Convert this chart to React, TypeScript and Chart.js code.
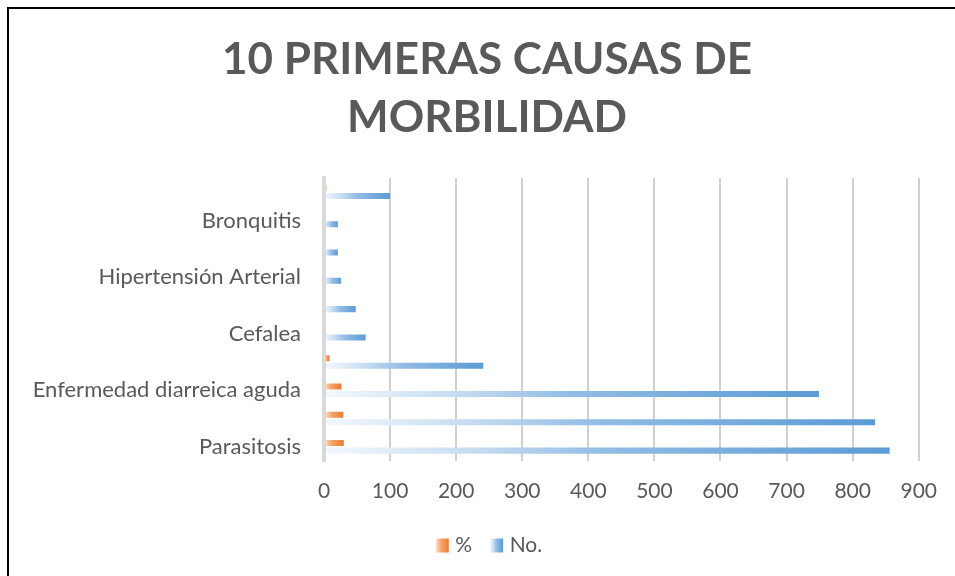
import React, { useEffect, useRef } from 'react';
import { Chart, registerables } from 'chart.js';

Chart.register(...registerables);

// Categories listed top to bottom as drawn
const categories = [
  'Conjuntivitis',
  'Bronquitis',
  'Dermatitis',
  'Hipertensión Arterial',
  'Gastritis',
  'Cefalea',
  'Infección de vías urinarias',
  'Enfermedad diarreica aguda',
  'Infección respiratoria aguda',
  'Parasitosis',
];
// Only every other category label is printed on the axis
const visibleLabels = ['Bronquitis', 'Hipertensión Arterial', 'Cefalea', 'Enfermedad diarreica aguda', 'Parasitosis'];
const pctValues = [3.5, 0.7, 0.7, 0.9, 1.7, 2.2, 8.5, 26.3, 29.2, 30.0];
const countValues = [100, 21, 21, 26, 48, 63, 241, 749, 834, 856];
const seriesNames = ['%', 'No.'];
const xTickMin = 0;
const xTickMax = 900;
const xTickStep = 100;
const titleLines = ['10 PRIMERAS CAUSAS DE', 'MORBILIDAD'];

const TEXT = '#595959';
const BLUE = '#5b9bd5';
const ORANGE = '#ed7d31';
const BLUE_STOPS: [number, string][] = [
  [0, '#f3f8fd'],
  [0.25, '#c9def2'],
  [0.5, '#92bce4'],
  [1, BLUE],
];
const ORANGE_STOPS: [number, string][] = [
  [0, '#fde7d6'],
  [0.4, '#f4a46a'],
  [1, ORANGE],
];

function gradientFill(stops: [number, string][], solid: string) {
  return (ctx: any) => {
    const chart = ctx.chart;
    const xs = chart.scales && chart.scales.x;
    if (!xs || ctx.type !== 'data' || ctx.raw == null) return solid;
    const x0 = xs.getPixelForValue(0);
    const x1 = xs.getPixelForValue(ctx.raw);
    if (!isFinite(x0) || !isFinite(x1) || x1 - x0 < 1) return solid;
    const g = chart.ctx.createLinearGradient(x0, 0, x1, 0);
    stops.forEach(([o, c]) => g.addColorStop(o, c));
    return g;
  };
}

const LEGEND_FONT = 21;
const LEGEND_BOX_W = 13;
const LEGEND_BOX_H = 14;
const LEGEND_BOX_SHIFT = 4;

const legendGradientPlugin = {
  id: 'legendGradient',
  afterLayout(chart: any) {
    // let the long category labels extend past the padded left edge without clipping
    const ys = chart.scales && chart.scales.y;
    if (ys) ys.left = 0;
  },
  afterDraw(chart: any) {
    const legend = chart.legend;
    if (!legend || !legend.legendHitBoxes) return;
    const c = chart.ctx;
    const sets = [ORANGE_STOPS, BLUE_STOPS];
    legend.legendHitBoxes.forEach((hb: any, i: number) => {
      const x0 = hb.left;
      const y = hb.top + Math.max((LEGEND_FONT - LEGEND_BOX_H) / 2, 0);
      c.save();
      c.fillStyle = '#ffffff';
      c.fillRect(x0 - 1, y - 1, LEGEND_BOX_W + 2, LEGEND_BOX_H + 2);
      const x = x0 + LEGEND_BOX_SHIFT;
      const g = c.createLinearGradient(x, 0, x + LEGEND_BOX_W, 0);
      (sets[i] || BLUE_STOPS).forEach(([o, col]) => g.addColorStop(o, col));
      c.fillStyle = g;
      c.fillRect(x, y, LEGEND_BOX_W, LEGEND_BOX_H);
      c.restore();
    });
  },
};

export default function App() {
  const canvasRef = useRef<HTMLCanvasElement | null>(null);

  useEffect(() => {
    if (!canvasRef.current) return;
    const chart = new Chart(canvasRef.current, {
      type: 'bar',
      data: {
        labels: categories,
        datasets: [
          {
            label: seriesNames[0],
            data: pctValues,
            backgroundColor: gradientFill(ORANGE_STOPS, ORANGE) as any,
            borderWidth: 0,
            categoryPercentage: 0.535,
            barPercentage: 0.8,
          },
          {
            label: seriesNames[1],
            data: countValues,
            backgroundColor: gradientFill(BLUE_STOPS, BLUE) as any,
            borderWidth: 0,
            categoryPercentage: 0.535,
            barPercentage: 0.8,
          },
        ],
      },
      options: {
        indexAxis: 'y',
        responsive: true,
        maintainAspectRatio: false,
        animation: false,
        events: [],
        layout: { padding: { left: 44, right: 34, top: 0, bottom: 10 } },
        scales: {
          x: {
            min: xTickMin,
            max: xTickMax,
            afterFit: (scale: any) => {
              scale.height = 60;
            },
            ticks: {
              stepSize: xTickStep,
              color: TEXT,
              padding: 18,
              font: { family: 'Lato', size: 21 },
            },
            grid: {
              color: '#d0d0d0',
              lineWidth: 2,
              drawTicks: false,
            },
            border: { display: false },
          },
          y: {
            afterFit: (scale: any) => {
              scale.width = 271;
            },
            ticks: {
              autoSkip: false,
              color: TEXT,
              padding: 23,
              font: { family: 'Lato', size: 22 },
              callback: function (this: any, value: any) {
                const lbl = categories[value as number];
                return visibleLabels.includes(lbl) ? lbl : '';
              },
            },
            grid: { display: false, drawTicks: false },
            border: { display: true, color: '#d9d9d9', width: 4, z: 1 },
          },
        },
        plugins: {
          title: {
            display: true,
            text: titleLines,
            color: TEXT,
            font: { family: 'Lato', size: 44, weight: 'bold', lineHeight: 58 / 44 },
            padding: { top: 22, bottom: 31 },
          },
          legend: {
            display: true,
            position: 'bottom',
            labels: {
              color: TEXT,
              font: { family: 'Lato', size: LEGEND_FONT },
              boxWidth: LEGEND_BOX_W,
              boxHeight: LEGEND_BOX_H,
              padding: 14,
            },
          },
          tooltip: { enabled: false },
        },
      },
      plugins: [legendGradientPlugin],
    });
    return () => chart.destroy();
  }, []);

  return (
    <div
      style={{
        position: 'absolute',
        left: 7,
        top: 7,
        width: 948,
        height: 569,
        boxSizing: 'border-box',
        borderLeft: '2px solid #000',
        borderTop: '2px solid #000',
        overflow: 'hidden',
        background: '#fff',
      }}
    >
      <div style={{ position: 'relative', width: 946, height: 567 }}>
        <canvas ref={canvasRef} />
      </div>
    </div>
  );
}
